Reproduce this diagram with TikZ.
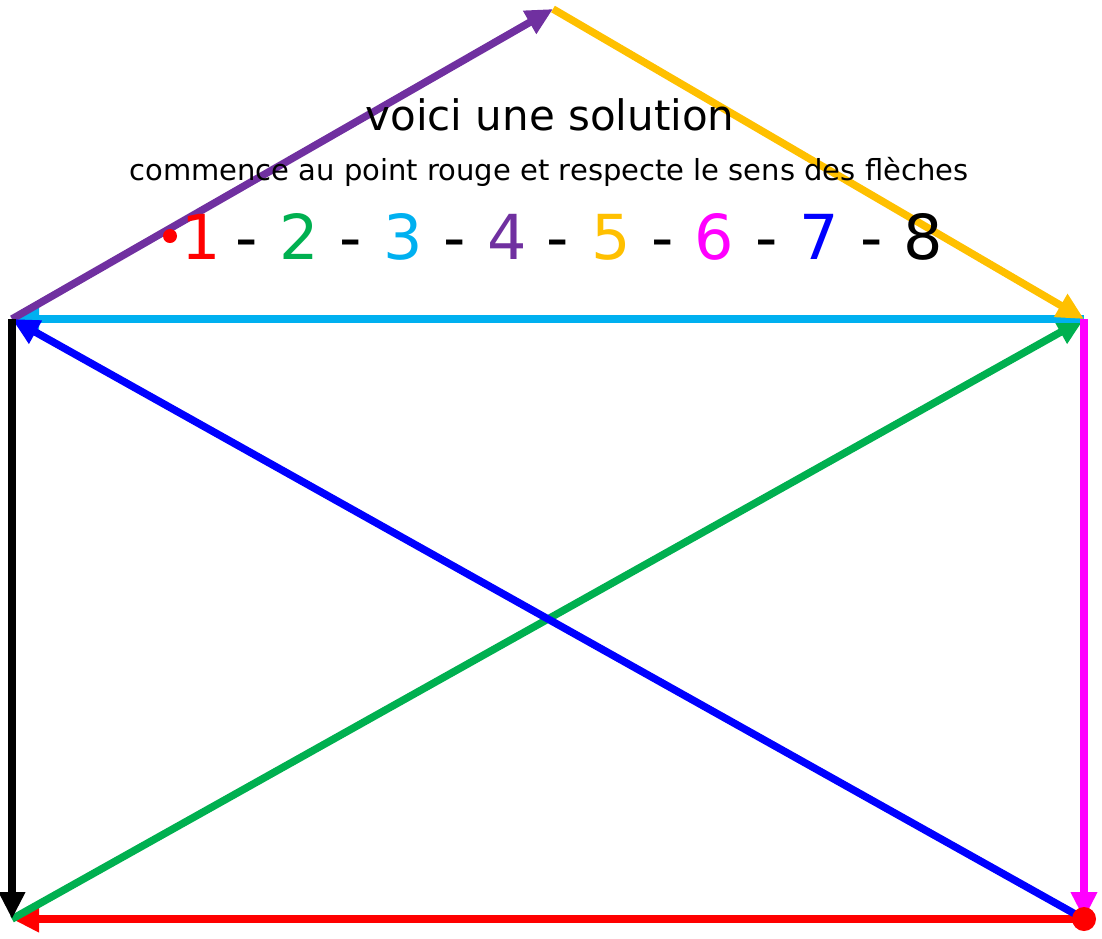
\documentclass[tikz,border=0pt]{standalone}
\usepackage{fontspec}
\setmainfont{DejaVu Sans}
\usetikzlibrary{arrows.meta}
\definecolor{cred}{HTML}{FF0000}
\definecolor{cgreen}{HTML}{00B050}
\definecolor{ccyan}{HTML}{00B0F0}
\definecolor{cpurple}{HTML}{7030A0}
\definecolor{cyellow}{HTML}{FFC000}
\definecolor{cmagenta}{HTML}{FF00FF}
\definecolor{cblue}{HTML}{0000FF}
\tikzset{
  edge/.style={line width=7.5pt, -{Triangle[length=27pt,width=25pt]}},
  digit/.style={anchor=base, inner sep=0pt, font=\fontsize{62}{62}\selectfont},
  dashsep/.style={anchor=base, inner sep=0pt, font=\fontsize{62}{62}\selectfont},
}
\begin{document}
\begin{tikzpicture}[x=1pt,y=-1pt]
\useasboundingbox (0,0) rectangle (1102,938);
\coordinate (T) at (553,9);
\coordinate (UL) at (12,319);
\coordinate (UR) at (1084,319);
\coordinate (BL) at (12,919);
\coordinate (BR) at (1084,919);
% arrows
\draw[edge, cred] (BR) -- (BL);
\draw[edge, cgreen] (BL) -- (UR);
\draw[edge, ccyan] (UR) -- (UL);
\draw[edge, cpurple] (UL) -- (T);
\draw[edge, cyellow] (T) -- (UR);
\draw[edge, cmagenta] (UR) -- (BR);
\draw[edge, cblue] (BR) -- (UL);
\draw[edge, black] (UL) -- (BL);
\fill[cred] (BR) circle (12);
% text
\node[anchor=base, inner sep=0pt, font=\fontsize{42}{42}\selectfont] (title) at (550,130) {voici une solution};
\node[anchor=base, inner sep=0pt, font=\fontsize{29}{29}\selectfont] (sub) at (549,180) {commence au point rouge et respecte le sens des flèches};
\node[digit, text=cred] (d1) at (201,259) {1};
\node[digit, text=cgreen] (d2) at (299,259) {2};
\node[digit, text=ccyan] (d3) at (403,259) {3};
\node[digit, text=cpurple] (d4) at (507,259) {4};
\node[digit, text=cyellow] (d5) at (611,259) {5};
\node[digit, text=cmagenta] (d6) at (714,259) {6};
\node[digit, text=cblue] (d7) at (819,259) {7};
\node[digit, text=black] (d8) at (923,259) {8};
\foreach \x [count=\i] in {247,351,455,558,663,767,872} {
  \node[dashsep] (s\i) at (\x,259) {-};
}
\fill[cred] (170,236) circle (7);
\end{tikzpicture}
\end{document}
